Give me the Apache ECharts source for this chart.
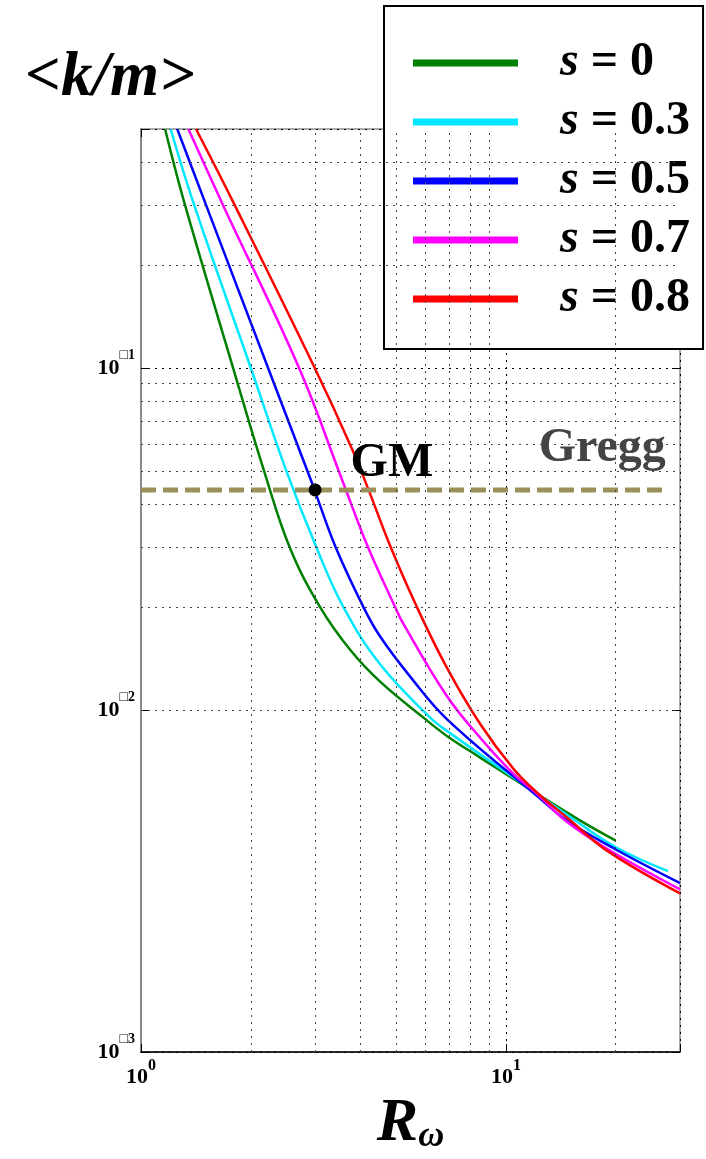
<!DOCTYPE html>
<html><head><meta charset="utf-8">
<script src="https://cdn.jsdelivr.net/npm/echarts@6/dist/echarts.min.js"></script>
<style>html,body{margin:0;padding:0;background:#fff}#c{width:706px;height:1159px}</style>
</head><body><div id="c"></div>
<script>
// ---- data ----
const seriesNames = ['s = 0', 's = 0.3', 's = 0.5', 's = 0.7', 's = 0.8'];
const seriesColors = ['#008000', '#00e8ff', '#0000ff', '#ff00ff', '#ff0000'];
const curveS0 = [[1.164,0.5],[1.314,0.305],[1.791,0.0995],[2.178,0.0497],[2.562,0.0297],[3.096,0.0200],[3.742,0.0150],[4.522,0.0121],[5.944,0.0095],[6.889,0.0084],[8.503,0.00726],[12.16,0.00569],[15.99,0.00475],[20,0.00415]];
const curveS03 = [[1.206,0.5],[1.391,0.305],[2.003,0.0995],[2.508,0.0497],[3.032,0.0297],[3.587,0.0200],[4.522,0.0136],[6.2,0.0095],[6.889,0.00869],[12.16,0.00569],[15.49,0.00475],[20,0.00397],[27.8,0.00338]];
const curveS05 = [[1.257,0.5],[1.498,0.305],[2.234,0.0995],[2.933,0.0465],[3.0,0.0435],[3.425,0.0297],[4.07,0.0200],[4.522,0.0164],[5.466,0.01252],[6.889,0.00941],[12.16,0.00561],[14.7,0.00475],[20,0.00391],[30,0.00312]];
const curveS07 = [[1.348,0.5],[1.665,0.305],[2.717,0.0995],[3.573,0.0465],[4.201,0.0297],[4.972,0.0200],[5.186,0.0182],[6.889,0.01099],[8.503,0.0083],[10.49,0.00651],[12.16,0.00569],[14.54,0.00475],[18.92,0.00393],[30,0.00299]];
const curveS08 = [[1.415,0.5],[1.791,0.305],[3.0,0.0995],[3.782,0.0582],[4.201,0.0441],[4.849,0.0297],[5.702,0.0200],[6.889,0.0133],[8.503,0.0091],[10.49,0.00673],[12.16,0.00574],[14.7,0.00485],[18.92,0.00388],[30,0.00291]];
const curves = [curveS0, curveS03, curveS05, curveS07, curveS08];
const greggLevel = 0.044;
const greggXRange = [1, 27.5];
const gmPoint = [3, 0.044];
const xRange = [1, 30];
const yRange = [0.001, 0.5];
const xMinorGrid = [2,3,4,5,6,7,8,9,20];
const yMinorGrid = [0.002,0.003,0.004,0.005,0.006,0.007,0.008,0.009,0.02,0.03,0.04,0.05,0.06,0.07,0.08,0.09,0.2,0.3,0.4];

// ---- chart ----
const F = "'Liberation Serif', 'Times New Roman', serif";
function powLabel(v) {
  const e = Math.log10(v), r = Math.round(e);
  if (Math.abs(e - r) > 1e-6) return '';
  return '{b|10}{s|' + (r < 0 ? '\u25A1' + (-r) : r) + '}';
}
const chart = echarts.init(document.getElementById('c'));
const series = curves.map((d, i) => ({
  type: 'line', name: seriesNames[i], data: d, showSymbol: false, symbol: 'none',
  smooth: 0.4, clip: true, z: 3,
  itemStyle: { color: seriesColors[i] },
  lineStyle: { color: seriesColors[i], width: 2.5 }
}));
series.unshift({
  type: 'line', name: 'grid', data: [], silent: true, z: 1,
  markLine: {
    silent: true, symbol: ['none', 'none'], label: { show: false }, animation: false,
    lineStyle: { color: '#444', type: [2, 5], width: 1 },
    data: xMinorGrid.map(v => ({ xAxis: v })).concat(yMinorGrid.map(v => ({ yAxis: v })))
  }
});
series.push({
  type: 'line', name: 'Gregg', data: greggXRange.map(x => [x, greggLevel]),
  symbol: 'none', z: 4, lineStyle: { color: '#9b8f5a', width: 5, type: [15, 7] }
});
series.push({
  type: 'scatter', name: 'GreggLabel', data: [[greggXRange[1], greggLevel]], symbolSize: 1, z: 5,
  itemStyle: { color: 'rgba(0,0,0,0)', opacity: 1 },
  label: { show: true, formatter: 'Gregg', position: [0, -41], align: 'right', verticalAlign: 'middle', opacity: 1,
    fontFamily: F, fontSize: 48, fontWeight: 'bold', color: '#444' }
});
series.push({
  type: 'scatter', name: 'GM', data: [gmPoint], symbol: 'circle', symbolSize: 13, z: 6,
  itemStyle: { color: '#000', opacity: 1 },
  label: { show: true, formatter: 'GM', position: [42, -20], align: 'left', verticalAlign: 'middle', opacity: 1,
    fontFamily: F, fontSize: 48, fontWeight: 'bold', color: '#000' }
});

chart.setOption({
  animation: false,
  backgroundColor: '#fff',
  title: { text: '<k/m>', left: 20, top: 42,
    textStyle: { fontFamily: F, fontSize: 63, fontWeight: 'bold', fontStyle: 'italic', color: '#000', lineHeight: 63 } },
  grid: { left: 141, top: 129, right: 26, bottom: 107, show: true, borderColor: '#555', borderWidth: 1,
    containLabel: false, outerBoundsMode: 'none' },
  legend: {
    data: seriesNames, orient: 'vertical', left: 384, top: 6, padding: [33, 13, 26, 29],
    itemGap: 11, itemWidth: 105, itemHeight: 7, icon: 'rect', selectedMode: false,
    backgroundColor: '#fff', borderColor: '#000', borderWidth: 2,
    formatter: n => n.replace(/^s/, '{i|s}'),
    textStyle: { fontFamily: F, fontSize: 48, fontWeight: 'bold', color: '#000', lineHeight: 46, padding: [0, 0, 0, 37],
      rich: { i: { fontFamily: F, fontSize: 48, fontWeight: 'bold', fontStyle: 'italic', color: '#000', lineHeight: 46 } } }
  },
  xAxis: [{
    type: 'log', logBase: 10, min: xRange[0], max: xRange[1], position: 'bottom',
    axisLine: { show: true, onZero: false, lineStyle: { color: '#000', width: 1.5 } },
    axisTick: { show: true, inside: true, length: 8, lineStyle: { color: '#000' } },
    axisLabel: { formatter: powLabel, margin: 6,
      rich: { b: { fontFamily: F, fontWeight: 'bold', fontSize: 22, lineHeight: 39, color: '#000' },
              s: { fontFamily: F, fontWeight: 'bold', fontSize: 16, lineHeight: 16, verticalAlign: 'top', color: '#000' } } },
    splitLine: { show: true, lineStyle: { color: '#000', type: [2, 5], width: 1 } },
    name: '{r|R}{w|\u03C9}', nameLocation: 'middle', nameGap: 41, nameMoveOverlap: false,
    nameTextStyle: { rich: {
      r: { fontFamily: F, fontSize: 62, fontWeight: 'bold', fontStyle: 'italic', lineHeight: 62, verticalAlign: 'top', color: '#000' },
      w: { fontFamily: F, fontSize: 36, fontWeight: 'bold', fontStyle: 'italic', lineHeight: 36, padding: [44, 0, 0, 0], verticalAlign: 'bottom', color: '#000' } } }
  }, {
    type: 'log', logBase: 10, min: xRange[0], max: xRange[1], position: 'top',
    axisLine: { show: false }, axisTick: { show: true, inside: true, length: 8, lineStyle: { color: '#000' } },
    axisLabel: { show: false }, splitLine: { show: false }
  }],
  yAxis: [{
    type: 'log', logBase: 10, min: yRange[0], max: yRange[1], position: 'left',
    axisLine: { show: true, onZero: false, lineStyle: { color: '#888', width: 2 } },
    axisTick: { show: true, inside: true, length: 8, lineStyle: { color: '#000' } },
    axisLabel: { formatter: powLabel, margin: 6,
      rich: { b: { fontFamily: F, fontWeight: 'bold', fontSize: 22, lineHeight: 40, color: '#000' },
              s: { fontFamily: F, fontWeight: 'bold', fontSize: 14, lineHeight: 14, verticalAlign: 'top', color: '#000' } } },
    splitLine: { show: true, lineStyle: { color: '#000', type: [2, 5], width: 1 } }
  }, {
    type: 'log', logBase: 10, min: yRange[0], max: yRange[1], position: 'right',
    axisLine: { show: false }, axisTick: { show: true, inside: true, length: 8, lineStyle: { color: '#000' } },
    axisLabel: { show: false }, splitLine: { show: false }
  }],
  series: series
});
</script>
</body></html>
